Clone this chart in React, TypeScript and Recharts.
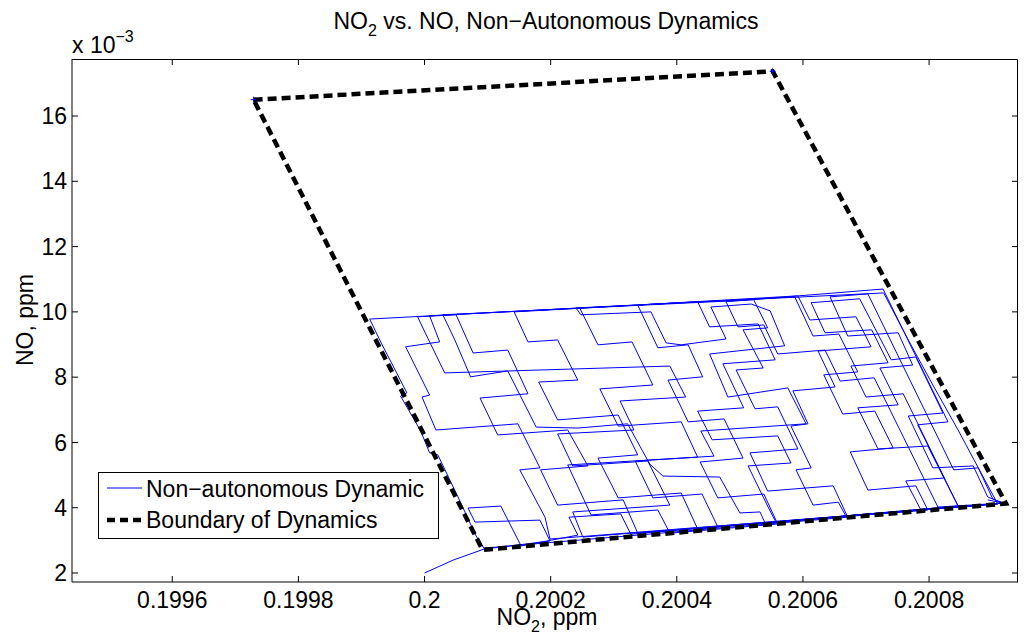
import { ComposedChart, Line, Scatter, XAxis, YAxis } from 'recharts';

// NO2 (ppm) and NO (x 10^-3 ppm) along the simulated trajectory
const no2Path = [
  0.200000, 0.200046, 0.200094, 0.200199, 0.200183, 0.200080, 0.200069, 0.200121, 0.200153, 0.200243,
  0.200229, 0.200311, 0.200327, 0.200465,
  0.200440, 0.200362, 0.200334, 0.200433, 0.200407, 0.200307, 0.200278, 0.200362, 0.200329, 0.200275, 0.200246,
  0.199913, 0.199932, 0.199972, 0.199962, 0.199994,
  0.200008, 0.200021, 0.200053, 0.200081, 0.200094, 0.200671,
  0.200648, 0.200544, 0.200516, 0.200592, 0.200560, 0.200524, 0.200494, 0.200537, 0.200505, 0.200544, 0.200522,
  0.200029, 0.200048, 0.200073,
  0.200132, 0.200177, 0.200243, 0.200322, 0.200357, 0.200378, 0.200468, 0.200500, 0.200532, 0.200540,
  0.200798,
  0.200779, 0.200703, 0.200675, 0.200743, 0.200714, 0.200663, 0.200633, 0.200687, 0.200657, 0.200616, 0.200587,
  0.200008, 0.200024, 0.199970, 0.200008, 0.199996, 0.200018, 0.200148, 0.200183,
  0.200151, 0.200191, 0.200199, 0.200909, 0.200885, 0.200846, 0.200806, 0.200767, 0.200728, 0.200240,
  0.200248, 0.200359, 0.200383, 0.200407, 0.200478, 0.200454, 0.200518, 0.200548, 0.200571, 0.200452,
  0.200481, 0.200576, 0.200605, 0.200438, 0.200459, 0.200227, 0.200264, 0.200370, 0.200389, 0.200560,
  0.200538, 0.200465, 0.200437, 0.200505, 0.200475, 0.200418, 0.200386, 0.200441, 0.200418, 0.200370, 0.200338,
  0.200592, 0.200611, 0.200684, 0.200708, 0.200624, 0.200651, 0.200584, 0.200608, 0.200581,
  0.200613, 0.200589, 0.200616, 0.200656, 0.200668, 0.200846, 0.200759, 0.200700, 0.200676, 0.200735,
  0.200709, 0.200635, 0.200613, 0.200690, 0.200740, 0.200779, 0.200822, 0.200767, 0.200806, 0.200870,
  0.200893, 0.200917, 0.200814, 0.200713, 0.200659, 0.200635, 0.200560, 0.200538, 0.200497, 0.200478,
  0.200727, 0.200830, 0.200782, 0.200824, 0.200763, 0.200787, 0.200917, 0.200433,
  0.200407, 0.200307, 0.200275, 0.200338, 0.200307, 0.200211, 0.200181, 0.200243, 0.200211, 0.200164, 0.200142,
  0.200433,
  0.200452, 0.200529, 0.200556, 0.200473, 0.200506, 0.200433, 0.200456, 0.200560, 0.200581, 0.200513,
  0.200544, 0.200557, 0.200846, 0.200798, 0.200719, 0.200687, 0.200751, 0.200722, 0.200774, 0.200751,
  0.200671, 0.200643, 0.200703, 0.200839, 0.200878, 0.200901, 0.200917, 0.200338,
  0.200315, 0.200211, 0.200184, 0.200259, 0.200227, 0.200116, 0.200088, 0.200164, 0.200132, 0.200077, 0.200050,
  0.199989,
  0.200002, 0.200032, 0.200389, 0.200414, 0.200310, 0.200332, 0.200211, 0.200235, 0.200354, 0.200389,
  0.200235, 0.200251, 0.200917, 0.200893,
];
const noPath = [
  2.00, 2.40, 2.73, 2.98, 3.62, 3.56, 3.99, 4.05, 2.83, 3.16,
  3.71, 3.81, 3.19, 3.41,
  4.42, 4.30, 5.43, 5.55, 6.63, 6.50, 7.64, 7.76, 9.08, 8.99, 10.12,
  9.78, 9.02, 7.52, 7.42, 6.35,
  5.68, 5.62, 4.33, 3.16, 2.76, 3.71,
  4.67, 4.51, 5.68, 5.80, 7.09, 7.03, 8.22, 8.28, 9.45, 9.51, 10.37,
  9.91, 9.14, 8.01,
  8.19, 6.47, 6.44, 6.57, 5.34, 4.97, 4.94, 3.84, 3.87, 3.53,
  3.93,
  4.67, 4.54, 5.71, 5.83, 6.96, 6.87, 8.07, 8.16, 9.32, 9.26, 10.46,
  9.88, 9.08, 8.93, 7.45, 7.39, 6.38, 6.57, 5.22,
  5.16, 3.71, 3.04, 4.11, 4.97, 6.38, 7.76, 9.14, 10.58, 10.12,
  9.91, 10.00, 9.05, 8.99, 9.17, 10.15, 10.24, 10.03, 8.96, 8.71,
  7.39, 7.67, 6.57, 6.35, 5.58, 5.31, 3.78, 3.93, 3.22, 3.50,
  4.42, 4.30, 5.40, 5.52, 6.72, 6.63, 7.91, 8.01, 8.99, 8.90, 10.21,
  10.49, 9.75, 9.85, 8.93, 8.80, 7.70, 7.58, 6.57, 6.50,
  5.22, 5.16, 4.08, 4.17, 3.75, 4.05, 7.49, 7.39, 8.34, 8.44,
  9.45, 9.36, 10.28, 10.40, 8.53, 8.62, 6.90, 6.81, 5.22, 5.28,
  4.33, 4.14, 4.02, 7.98, 7.88, 8.83, 8.71, 9.60, 9.54, 10.31,
  10.70, 6.63, 6.54, 4.91, 4.82, 3.93, 4.14, 3.35,
  4.45, 4.30, 5.52, 5.62, 6.84, 6.69, 7.85, 7.91, 9.14, 9.08, 10.00,
  10.31,
  9.54, 9.63, 8.53, 8.41, 7.06, 6.96, 6.08, 6.20, 5.37, 5.28,
  4.05, 3.56, 4.05, 5.89, 5.80, 7.06, 7.15, 8.28, 8.37, 9.36,
  9.26, 10.46, 10.55, 5.16, 5.22, 4.27, 4.14, 3.22,
  4.24, 4.08, 5.16, 5.28, 6.38, 6.23, 7.36, 7.49, 8.83, 8.74, 9.91,
  9.85,
  9.32, 8.13, 8.34, 7.39, 7.27, 6.38, 6.26, 5.28, 5.43, 4.08,
  3.87, 3.10, 4.14, 4.24,
];

// boundary of the reachable set (closed polygon)
const boundaryNo2 = [0.199729, 0.200552, 0.200922, 0.200092, 0.199729];
const boundaryNo = [16.5, 17.37, 4.13, 2.71, 16.5];
const cornerNo2 = [0.199729, 0.200552];
const cornerNo = [16.5, 17.37];

const xTicks = [0.1996, 0.1998, 0.2, 0.2002, 0.2004, 0.2006, 0.2008];
const yTicks = [2, 4, 6, 8, 10, 12, 14, 16];
const xDomain = [0.199441, 0.200941];
const yDomain = [1.724, 17.747];

const W = 1029;
const H = 643;
// plot area (MATLAB axes box)
const PL = 72;
const PT = 59;
const PW = 946;
const PH = 523;
const TICK_PX = 6;
const FONT = '"Liberation Sans", Arial, Helvetica, sans-serif';
const BLUE = '#0000ff';

const pathData = no2Path.map((x, i) => ({ x, y: noPath[i] }));
const boundaryData = boundaryNo2.map((x, i) => ({ x, y: boundaryNo[i] }));
const cornerData = cornerNo2.map((x, i) => ({ x, y: cornerNo[i] }));

// positions of the mirrored ticks on the top / right edges of the box
const topTickX = (t: number) => PL + ((t - xDomain[0]) / (xDomain[1] - xDomain[0])) * PW;
const rightTickY = (t: number) => PT + ((yDomain[1] - t) / (yDomain[1] - yDomain[0])) * PH;

const fmtX = (v: number) => String(parseFloat(v.toFixed(4)));

function Plus(props: any) {
  const { cx, cy } = props;
  return (
    <g stroke={BLUE} strokeWidth={1}>
      <line x1={cx - 3} y1={cy} x2={cx + 3} y2={cy} />
      <line x1={cx} y1={cy - 3} x2={cx} y2={cy + 3} />
    </g>
  );
}

export default function App() {
  const tickStyle = { fill: '#000', fontSize: 23, fontFamily: FONT };
  return (
    <div style={{ position: 'absolute', left: 0, top: 0, width: W, height: H, background: '#fff' }}>
      <ComposedChart width={W} height={H} margin={{ top: PT, right: W - PL - PW, bottom: 0, left: 0 }}>
        <XAxis
          xAxisId="b" type="number" dataKey="x" domain={xDomain} ticks={xTicks}
          interval={0} height={H - PT - PH} tickSize={-TICK_PX} tickMargin={16} tick={tickStyle}
          tickFormatter={fmtX} stroke="#000"
        />
        <YAxis
          yAxisId="l" type="number" dataKey="y" domain={yDomain} ticks={yTicks}
          interval={0} width={PL} tickSize={-TICK_PX} tickMargin={11} tick={tickStyle} stroke="#000"
        />
        <Line
          xAxisId="b" yAxisId="l" data={pathData} dataKey="y" type="linear" stroke={BLUE}
          strokeWidth={1} dot={false} isAnimationActive={false}
        />
        <Line
          xAxisId="b" yAxisId="l" data={boundaryData} dataKey="y" type="linear" stroke="#000"
          strokeWidth={4.5} strokeDasharray="9 5" dot={false} isAnimationActive={false}
        />
        <Scatter
          xAxisId="b" yAxisId="l" data={cornerData} dataKey="y" shape={<Plus />}
          isAnimationActive={false}
        />
      </ComposedChart>

      <svg
        width={W} height={H}
        style={{ position: 'absolute', left: 0, top: 0, pointerEvents: 'none' }}
        fontFamily={FONT} fill="#000"
      >
        {/* top and right edges of the axes box with inward ticks */}
        <polyline
          points={`${PL},${PT + 0.5} ${PL + PW - 0.5},${PT + 0.5} ${PL + PW - 0.5},${PT + PH}`}
          fill="none" stroke="#000" strokeWidth={1}
        />
        {xTicks.map((t) => (
          <line key={`tt${t}`} x1={topTickX(t)} y1={PT} x2={topTickX(t)} y2={PT + TICK_PX} stroke="#000" />
        ))}
        {yTicks.map((t) => (
          <line key={`rt${t}`} x1={PL + PW} y1={rightTickY(t)} x2={PL + PW - TICK_PX} y2={rightTickY(t)} stroke="#000" />
        ))}

        <text x={546} y={29} fontSize={23} textAnchor="middle">
          NO<tspan fontSize={16} dy={7}>2</tspan>
          <tspan dy={-7}> vs. NO, Non−Autonomous Dynamics</tspan>
        </text>
        <text x={72} y={53} fontSize={23}>
          x 10<tspan fontSize={16} dy={-11}>−3</tspan>
        </text>
        <text x={547} y={625} fontSize={23} textAnchor="middle">
          NO<tspan fontSize={16} dy={7}>2</tspan>
          <tspan dy={-7}>, ppm</tspan>
        </text>
        <text x={33} y={320} fontSize={23} textAnchor="middle" transform="rotate(-90 33 320)">
          NO, ppm
        </text>

        <rect x={98.5} y={472.5} width={340} height={66} fill="#fff" stroke="#000" strokeWidth={1} />
        <line x1={107} y1={488} x2={142} y2={488} stroke={BLUE} strokeWidth={1} />
        <text x={146} y={497} fontSize={23}>Non−autonomous Dynamic</text>
        <line x1={107} y1={520} x2={142} y2={520} stroke="#000" strokeWidth={4.5} strokeDasharray="8 5" />
        <text x={146} y={528} fontSize={23}>Boundary of Dynamics</text>
      </svg>
    </div>
  );
}
